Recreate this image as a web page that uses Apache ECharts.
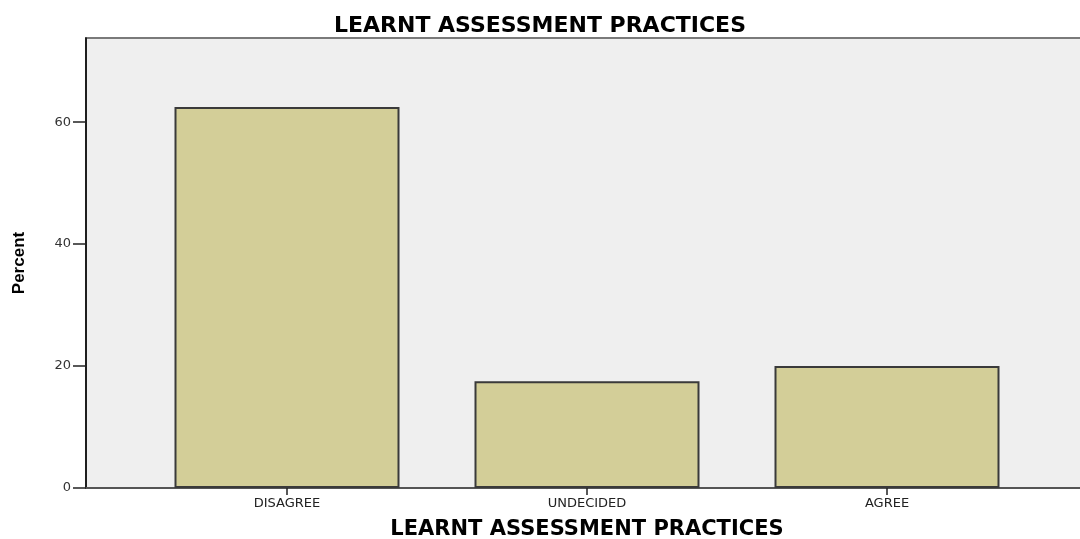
<!DOCTYPE html>
<html>
<head>
<meta charset="utf-8">
<script src="https://cdn.jsdelivr.net/npm/echarts@6/dist/echarts.min.js"></script>
<style>
html, body { margin: 0; padding: 0; background: #fff; }
#main { width: 1080px; height: 539px; }
</style>
</head>
<body>
<div id="main"></div>
<script>
var categories = ['DISAGREE', 'UNDECIDED', 'AGREE'];
var percents = [62.5, 17.5, 20.0];

var barData = [];
for (var i = 0; i < categories.length; i++) {
	barData.push([i, percents[i]]);
}
var catPositions = categories.map(function (c, i) { return i; });

var myChart = echarts.init(document.getElementById('main'));
var option = {
	animation: false,
	title: {
		text: 'LEARNT ASSESSMENT PRACTICES',
		left: 'center',
		top: 10,
		textStyle: {
			color: '#000',
			fontFamily: 'DejaVu Sans',
			fontWeight: 'bold',
			fontSize: 22
		}
	},
	grid: {
		left: 86,
		top: 38,
		right: -8,
		bottom: 51,
		outerBoundsMode: 'none',
		containLabel: false,
		show: true,
		backgroundColor: '#efefef',
		borderColor: '#7a7a7a',
		borderWidth: 2
	},
	xAxis: {
		type: 'value',
		min: -0.67,
		max: 2.67,
		name: 'LEARNT ASSESSMENT PRACTICES',
		nameLocation: 'middle',
		nameGap: 31,
		nameTextStyle: {
			color: '#000',
			fontFamily: 'DejaVu Sans',
			fontWeight: 'bold',
			fontSize: 21
		},
		splitLine: { show: false },
		axisLine: { show: true, lineStyle: { color: '#555', width: 2 } },
		axisTick: {
			show: true,
			customValues: catPositions,
			length: 7,
			lineStyle: { color: '#222', width: 1.5 }
		},
		axisLabel: {
			customValues: catPositions,
			margin: 9,
			color: '#222',
			fontFamily: 'DejaVu Sans',
			fontSize: 13,
			formatter: function (v) { return categories[Math.round(v)]; }
		}
	},
	yAxis: {
		type: 'value',
		min: 0,
		max: 73.8,
		interval: 20,
		name: 'Percent',
		nameLocation: 'middle',
		nameGap: 58,
		nameRotate: 90,
		nameTextStyle: {
			color: '#000',
			fontFamily: 'Liberation Sans',
			fontWeight: 'bold',
			fontSize: 17
		},
		splitLine: { show: false },
		axisLine: { show: true, onZero: false, lineStyle: { color: '#000', width: 1.5 } },
		axisTick: {
			show: true,
			length: 13,
			lineStyle: { color: '#222', width: 1.5 }
		},
		axisLabel: {
			showMaxLabel: false,
			margin: 15,
			color: '#333',
			fontFamily: 'DejaVu Sans',
			fontSize: 13
		}
	},
	series: [{
		name: 'Percent',
		type: 'bar',
		barWidth: 225,
		data: barData,
		itemStyle: {
			color: '#d3ce98',
			borderColor: '#3a3a3a',
			borderWidth: 2
		}
	}]
};
myChart.setOption(option);
</script>
</body>
</html>
